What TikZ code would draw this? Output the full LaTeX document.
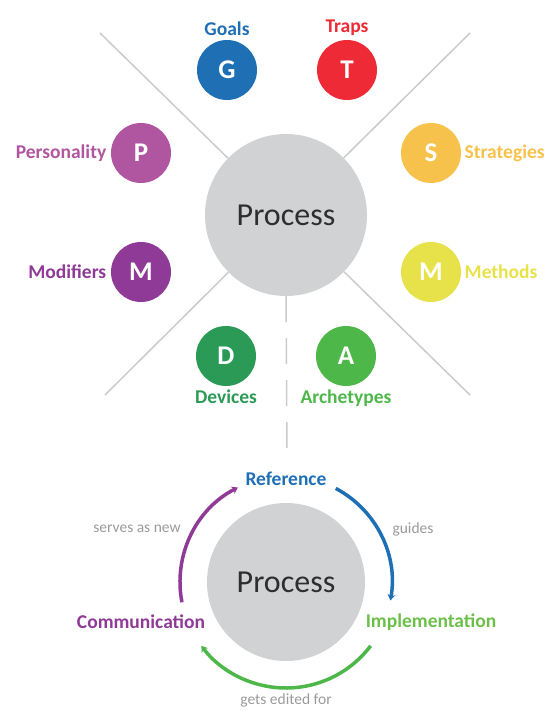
\documentclass[tikz,border=0pt]{standalone}
\usepackage{fontspec}
\setmainfont{Carlito}
\usetikzlibrary{shapes,arrows,arrows.meta,positioning,calc}
\usepackage{xcolor}
\definecolor{goalblue}{HTML}{1F6FB4}
\definecolor{trapred}{HTML}{EE2A36}
\definecolor{perspink}{HTML}{B0559F}
\definecolor{stratorange}{HTML}{F7C24C}
\definecolor{modpurple}{HTML}{8E3A96}
\definecolor{methyellow}{HTML}{E8E24A}
\definecolor{devgreen}{HTML}{2A9A56}
\definecolor{archgreen}{HTML}{4DB749}
\definecolor{implgreen}{HTML}{6CC04A}
\definecolor{hubgray}{HTML}{D1D2D4}
\definecolor{hubtext}{HTML}{2E2E2E}
\definecolor{linegray}{HTML}{CBCBCB}
\definecolor{notegray}{HTML}{9A9A9A}

\begin{document}
\begin{tikzpicture}[x=1pt,y=-1pt,
    bubble/.style={circle, minimum size=60pt, inner sep=0pt, text=white,
      font=\fontsize{27}{27}\selectfont\bfseries},
    tag/.style={font=\fontsize{19.5}{19.5}\selectfont\bfseries},
    hub/.style={circle, fill=hubgray, minimum size=162pt, text=hubtext,
      font=\fontsize{32}{32}\selectfont},
    spoke/.style={draw=linegray, line width=1.5pt},
    note/.style={font=\fontsize{15.5}{15.5}\selectfont, text=notegray},
    turn/.style={line width=3.5pt, -{Stealth[length=6pt,width=8pt,inset=2pt]}}]
    \useasboundingbox (0,0) rectangle (550,711);

    % Upper part: hub with spokes
    \coordinate (tl) at (100,33);
    \coordinate (tr) at (470,33);
    \coordinate (bl) at (105,395);
    \coordinate (br) at (470,395);
    \coordinate (stem) at (287,460);
    \node[hub] (proc) at (286,215) {Process};
    \draw[spoke] (tl) -- (proc);
    \draw[spoke] (tr) -- (proc);
    \draw[spoke] (bl) -- (proc);
    \draw[spoke] (br) -- (proc);
    \draw[spoke, dash pattern=on 26pt off 16pt] (proc.south) -- (stem);

    % Bubbles
    \node[bubble, fill=goalblue] (g) at (227,70) {G};
    \node[bubble, fill=trapred] (t) at (347,70) {T};
    \node[bubble, fill=perspink] (p) at (141,153) {P};
    \node[bubble, fill=stratorange] (s) at (431,153) {S};
    \node[bubble, fill=modpurple] (mo) at (141,272) {M};
    \node[bubble, fill=methyellow] (me) at (431,272) {M};
    \node[bubble, fill=devgreen] (d) at (226,356) {D};
    \node[bubble, fill=archgreen] (a) at (346,356) {A};

    % Labels
    \node[tag, text=goalblue, above=1pt of g] {Goals};
    \node[tag, text=trapred, above=1pt of t] {Traps};
    \node[tag, text=perspink, left=1pt of p] {Personality};
    \node[tag, text=stratorange, right=0pt of s] {Strategies};
    \node[tag, text=modpurple, left=1pt of mo] {Modifiers};
    \node[tag, text=methyellow, right=0pt of me] {Methods};
    \node[tag, text=devgreen, below=0pt of d] {Devices};
    \node[tag, text=archgreen, below=0pt of a] {Archetypes};

    % Lower part: cycle
    \node[hub, minimum size=158pt] (proc2) at (286,582) {Process};
    \node[tag, text=goalblue] (ref) at (286,479) {Reference};
    \node[tag, text=implgreen] (impl) at (431,622) {Implementation};
    \node[tag, text=modpurple] (comm) at (141,622) {Communication};

    \draw[turn, draw=goalblue] ([shift={(62:106pt)}]proc2.center)
      arc[start angle=62, end angle=-10, radius=106pt];
    \draw[turn, draw=archgreen] ([shift={(-37:106pt)}]proc2.center)
      arc[start angle=-37, end angle=-143, radius=106pt];
    \draw[turn, draw=modpurple] ([shift={(191:106pt)}]proc2.center)
      arc[start angle=191, end angle=117, radius=106pt];

    \node[note] at (413,529) {guides};
    \node[note] at (137,529) {serves as new};
    \node[note] at (286,700) {gets edited for};
\end{tikzpicture}
\end{document}
